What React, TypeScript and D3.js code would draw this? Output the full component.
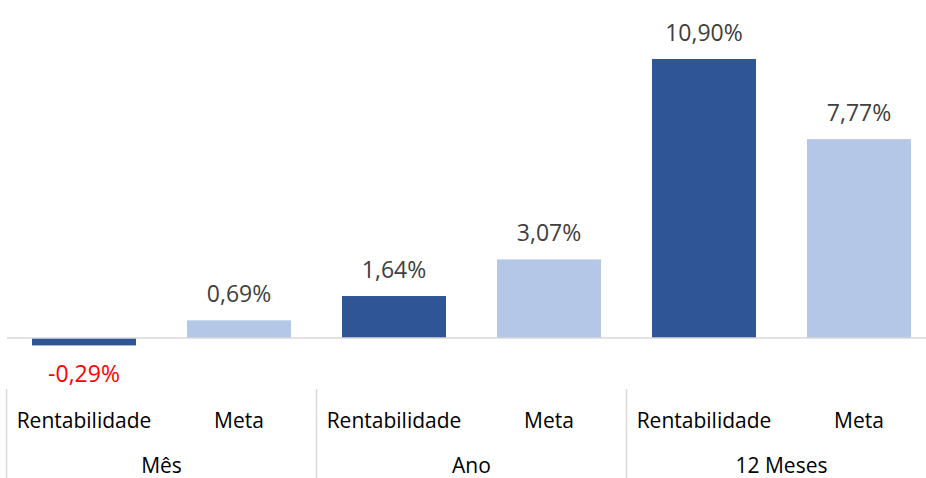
import React from "react";
import * as d3 from "d3";

const groups = ["Mês", "Ano", "12 Meses"];
const seriesNames = ["Rentabilidade", "Meta"];
const rentabilidade = [-0.29, 1.64, 10.9];
const meta = [0.69, 3.07, 7.77];

const W = 926;
const H = 478;
const FONT = "'Open Sans', sans-serif";
const COLORS = ["#2F5597", "#B4C7E7"];

type Item = { group: string; series: string; value: number; si: number; gi: number };

const items: Item[] = [];
groups.forEach((g, gi) => {
  seriesNames.forEach((s, si) => {
    const v = si === 0 ? rentabilidade[gi] : meta[gi];
    items.push({ group: g, series: s, value: v, si, gi });
  });
});

const fmt = (v: number) => v.toFixed(2).replace(".", ",") + "%";

export default function App() {
  const x = d3
    .scaleBand<number>()
    .domain(items.map((_, i) => i))
    .range([6.5, 936.5])
    .paddingInner(0.329)
    .paddingOuter(0.1645);
  const step = x.step();
  const y = d3.scaleLinear().domain([0, 10.9]).range([338, 59]);
  const gx = (gi: number) => 6.5 + gi * step * 2;

  return (
    <svg
      width={W}
      height={H}
      style={{ position: "absolute", left: 0, top: 0, background: "#fff" }}
      fontFamily={FONT}
    >
      {items.map((d, i) => {
        const y0 = y(0);
        const yv = y(d.value);
        const top = Math.min(y0, yv);
        const h = Math.abs(yv - y0);
        const cx = (x(i) as number) + x.bandwidth() / 2;
        const neg = d.value < 0;
        return (
          <g key={i}>
            <rect x={x(i)} y={top} width={x.bandwidth()} height={h} fill={COLORS[d.si]} />
            <text
              x={cx}
              y={neg ? yv + 37 : yv - 18}
              textAnchor="middle"
              fontSize={23}
              fill={neg ? "#FF0000" : "#404040"}
            >
              {fmt(d.value)}
            </text>
            <text x={cx} y={428} textAnchor="middle" fontSize={21} fill="#000">
              {d.series}
            </text>
          </g>
        );
      })}
      <line x1={7} x2={W} y1={y(0)} y2={y(0)} stroke="#D9D9D9" strokeWidth={1.5} />
      {groups.map((g, gi) => (
        <g key={g}>
          <line x1={gx(gi)} x2={gx(gi)} y1={389} y2={H} stroke="#D9D9D9" strokeWidth={1.5} />
          <text x={gx(gi) + step} y={473} textAnchor="middle" fontSize={21} fill="#000">
            {g}
          </text>
        </g>
      ))}
    </svg>
  );
}
